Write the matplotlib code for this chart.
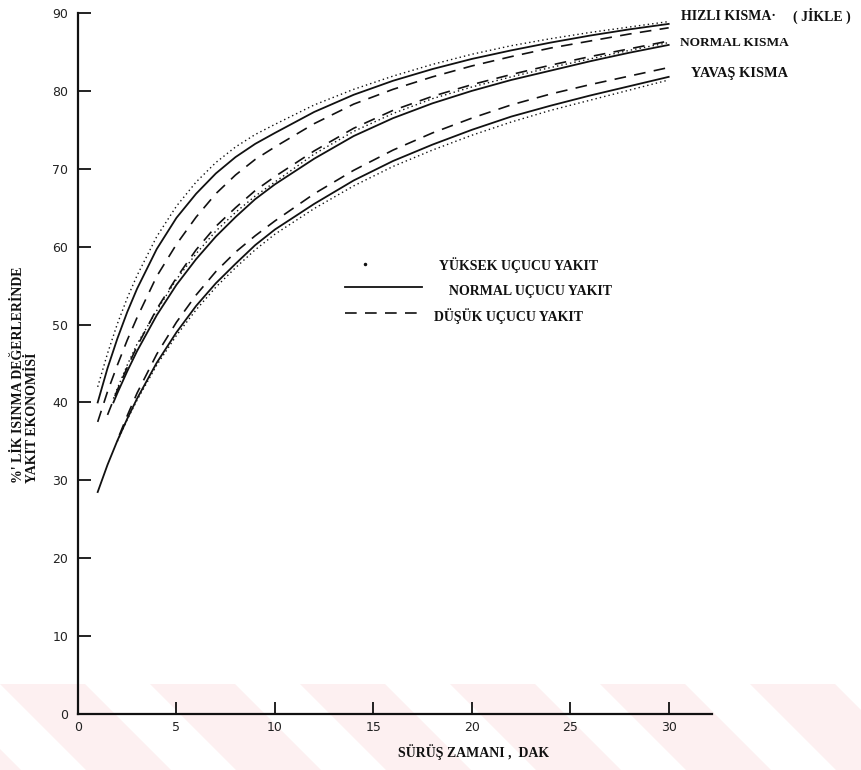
import matplotlib
matplotlib.use("Agg")
import matplotlib.pyplot as plt
from matplotlib.patches import Polygon

# Driving time (min) and fuel economy (% of warmed-up value)
# Three choke groups: fast (HIZLI), normal, slow (YAVAŞ)
# Each group: high (dotted), normal (solid), low (dashed) volatility fuel

fast_high_x = [1, 1.5, 2, 2.5, 3, 4, 5, 6, 7, 8, 9, 10, 12, 14, 16, 18, 20, 22, 24, 26, 28, 30]
fast_high_y = [42, 46.3, 50.1, 53.4, 56.3, 61.3, 65.2, 68.3, 70.8, 72.8, 74.4, 75.7,
               78.2, 80.2, 81.9, 83.4, 84.7, 85.8, 86.7, 87.5, 88.2, 88.9]

fast_norm_x = [1, 1.5, 2, 2.5, 3, 4, 5, 6, 7, 8, 9, 10, 12, 14, 16, 18, 20, 22, 24, 26, 28, 30]
fast_norm_y = [40, 44.4, 48.2, 51.6, 54.6, 59.7, 63.7, 66.8, 69.4, 71.5, 73.2, 74.6,
               77.3, 79.5, 81.3, 82.8, 84.1, 85.2, 86.2, 87.1, 87.9, 88.6]

fast_low_x = [1, 1.5, 2, 2.5, 3, 4, 5, 6, 7, 8, 9, 10, 12, 14, 16, 18, 20, 22, 24, 26, 28, 30]
fast_low_y = [37.5, 41.4, 44.8, 48.0, 50.9, 56.2, 60.3, 63.8, 66.8, 69.2, 71.2, 72.8,
              75.8, 78.3, 80.2, 81.8, 83.2, 84.4, 85.5, 86.4, 87.3, 88.1]

normal_high_x = [1.8, 2, 2.5, 3, 4, 5, 6, 7, 8, 9, 10, 12, 14, 16, 18, 20, 22, 24, 26, 28, 30]
normal_high_y = [40.5, 41.8, 44.8, 47.5, 51.8, 55.8, 59.1, 62.0, 64.4, 66.5, 68.3,
                 71.9, 74.8, 77.1, 79.0, 80.5, 81.8, 83.0, 84.1, 85.2, 86.2]

normal_norm_x = [1.8, 2, 2.5, 3, 4, 5, 6, 7, 8, 9, 10, 12, 14, 16, 18, 20, 22, 24, 26, 28, 30]
normal_norm_y = [40, 41.2, 44.0, 46.6, 51.2, 55.1, 58.4, 61.3, 63.8, 66.1, 68.0,
                 71.3, 74.2, 76.5, 78.4, 80.0, 81.4, 82.6, 83.8, 84.9, 85.9]

normal_low_x = [1.5, 2, 2.5, 3, 4, 5, 6, 7, 8, 9, 10, 12, 14, 16, 18, 20, 22, 24, 26, 28, 30]
normal_low_y = [38.4, 41.6, 44.5, 47.2, 52.0, 56.0, 59.6, 62.6, 65.0, 67.2, 69.0,
                72.3, 75.2, 77.5, 79.3, 80.8, 82.1, 83.3, 84.4, 85.4, 86.4]

slow_high_x = [2, 2.5, 3, 4, 5, 6, 7, 8, 9, 10, 12, 14, 16, 18, 20, 22, 24, 26, 28, 30]
slow_high_y = [35.0, 37.8, 40.3, 44.8, 48.6, 51.9, 54.8, 57.3, 59.6, 61.6,
               64.9, 67.8, 70.3, 72.4, 74.3, 76.0, 77.5, 78.8, 80.1, 81.4]

slow_norm_x = [1, 1.5, 2, 2.5, 3, 4, 5, 6, 7, 8, 9, 10, 12, 14, 16, 18, 20, 22, 24, 26, 28, 30]
slow_norm_y = [28.5, 32.0, 35.1, 37.9, 40.5, 45.1, 49.0, 52.4, 55.3, 57.8, 60.2, 62.2,
               65.5, 68.5, 71.0, 73.1, 75.0, 76.7, 78.1, 79.4, 80.6, 81.8]

slow_low_x = [2.1, 2.5, 3, 4, 5, 6, 7, 8, 9, 10, 12, 14, 16, 18, 20, 22, 24, 26, 28, 30]
slow_low_y = [35.8, 38.3, 41.2, 46.2, 50.3, 53.8, 56.8, 59.3, 61.4, 63.3,
              66.8, 69.8, 72.4, 74.6, 76.5, 78.2, 79.6, 80.8, 81.9, 83.0]

x_ticks = [0, 5, 10, 15, 20, 25, 30]
y_ticks = [0, 10, 20, 30, 40, 50, 60, 70, 80, 90]

group_labels = ["HIZLI KISMA·", "( JİKLE )", "NORMAL KISMA", "YAVAŞ KISMA"]
fuel_labels = ["YÜKSEK UÇUCU YAKIT", "NORMAL UÇUCU YAKIT", "DÜŞÜK UÇUCU YAKIT"]
x_label = "SÜRÜŞ ZAMANI ,  DAK"
y_label_1 = "%' LİK ISINMA DEĞERLERİNDE"
y_label_2 = "YAKIT EKONOMİSİ"

W, H = 862, 770
fig = plt.figure(figsize=(W / 100, H / 100), dpi=100)
fig.patch.set_facecolor("white")

# faint diagonal watermark band along the bottom edge, kept behind the axes
bg = fig.add_axes([0, 0, 1, 1], zorder=-10)
bg.set_xlim(0, W)
bg.set_ylim(H, 0)
bg.axis("off")
period, band, top_px = 150, 85, 684
slant = H - top_px
for k in range(-2, 8):
    x0 = k * period
    bg.add_patch(Polygon([(x0, top_px), (x0 + band, top_px),
                          (x0 + band + slant, H), (x0 + slant, H)],
                         closed=True, facecolor="#fdf0f1", edgecolor="none"))

ax = fig.add_axes([78 / W, 1 - 714 / H, (712 - 78) / W, (714 - 13) / H])
ax.set_facecolor("none")
ax.set_xlim(0, 32.2)
ax.set_ylim(0, 90)

ink = "#111111"
dot_style = dict(color=ink, lw=1.0, linestyle=(0, (1, 2.2)))
solid_style = dict(color=ink, lw=1.3, linestyle="-")
dash_style = dict(color=ink, lw=1.2, linestyle=(0, (7, 5)))

for xs, ys, st in [
    (fast_high_x, fast_high_y, dot_style),
    (fast_norm_x, fast_norm_y, solid_style),
    (fast_low_x, fast_low_y, dash_style),
    (normal_high_x, normal_high_y, dot_style),
    (normal_norm_x, normal_norm_y, solid_style),
    (normal_low_x, normal_low_y, dash_style),
    (slow_high_x, slow_high_y, dot_style),
    (slow_norm_x, slow_norm_y, solid_style),
    (slow_low_x, slow_low_y, dash_style),
]:
    ax.plot(xs, ys, solid_joinstyle="round", **st)

for s in ("top", "right"):
    ax.spines[s].set_visible(False)
for s in ("left", "bottom"):
    ax.spines[s].set_linewidth(1.6)
    ax.spines[s].set_color(ink)

ax.set_xticks(x_ticks)
ax.set_yticks(y_ticks)
ax.set_xticklabels([str(v) for v in x_ticks], fontsize=9, family="DejaVu Sans")
ax.set_yticklabels([str(v) for v in y_ticks], fontsize=9, family="DejaVu Sans")
ax.tick_params(axis="both", direction="in", length=9, width=1.3, colors=ink,
               labelcolor="#222222")
ax.tick_params(axis="x", pad=5)
ax.tick_params(axis="y", pad=7)

serif = dict(family="Liberation Serif", fontweight="bold", color=ink)

def ftext(px, py, s, **kw):
    fig.text(px / W, 1 - py / H, s, **kw)

# group labels at the right end of the curves
ftext(681, 16, group_labels[0], fontsize=10, va="center", ha="left", **serif)
ftext(793, 16, group_labels[1], fontsize=10, va="center", ha="left", **serif)
ftext(680, 43, group_labels[2], fontsize=9.6, va="center", ha="left", **serif)
ftext(691, 74, group_labels[3], fontsize=10.4, va="center", ha="left", **serif)

# line-style key
ax.plot([14.6], [57.8], marker="o", ms=1.5, color=ink, lw=0)
ax.plot([13.55, 17.45], [54.8, 54.8], **solid_style)
ax.plot([13.55, 17.45], [51.5, 51.5], **dash_style)
ftext(439, 265, fuel_labels[0], fontsize=10, va="center", ha="left", **serif)
ftext(449, 291, fuel_labels[1], fontsize=10, va="center", ha="left", **serif)
ftext(434, 316, fuel_labels[2], fontsize=10, va="center", ha="left", **serif)

ftext(474, 752, x_label, fontsize=10, ha="center", va="center", **serif)
ftext(19, 483, y_label_1, fontsize=10, rotation=90, ha="center", va="bottom", **serif)
ftext(33, 483, y_label_2, fontsize=10, rotation=90, ha="center", va="bottom", **serif)

fig.savefig("out.png", dpi=100, facecolor="white")
